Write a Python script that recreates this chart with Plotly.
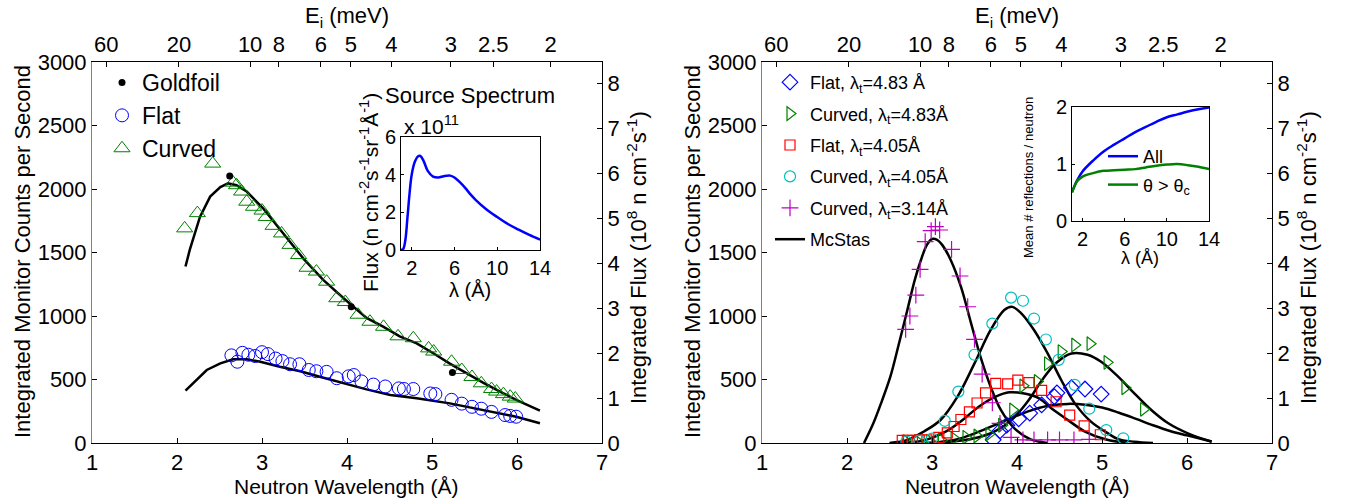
import numpy as np
import plotly.graph_objects as go

W, H = 1348, 502
def px(x): return x / W
def py(y): return 1 - y / H

FONT = "Liberation Sans, Arial, Helvetica, sans-serif"
C_BLUE = '#0000ff'; C_GREEN = '#008000'; C_RED = '#ff0000'; C_CYAN = '#00bfbf'; C_MAG = '#bf00bf'

# ---------------- data: left panel ----------------
goldfoil_lam = [2.62, 4.05, 5.24]
goldfoil_flux = [5.94, 3.03, 1.57]   # 1e8 n cm^-2 s^-1 (right axis)

flat_lam = [2.64, 2.71, 2.77, 2.84, 2.92, 3.00, 3.07, 3.16, 3.24, 3.33, 3.44, 3.55, 3.64, 3.76, 3.88,
            4.02, 4.08, 4.17, 4.31, 4.45, 4.61, 4.67, 4.78, 4.98, 5.04, 5.23, 5.35, 5.47, 5.58, 5.70,
            5.86, 5.92, 5.99]
flat_cnt = [690, 640, 710, 695, 685, 715, 700, 665, 645, 620, 620, 575, 565, 560, 510,
            525, 535, 485, 460, 445, 430, 425, 425, 390, 385, 340, 310, 285, 270, 245,
            220, 213, 207]

curved_lam = [2.09, 2.24, 2.42, 2.66, 2.70, 2.76, 2.82, 2.90, 3.00, 3.05, 3.13, 3.23, 3.33, 3.43, 3.53,
              3.64, 3.76, 3.88, 3.98, 4.13, 4.27, 4.43, 4.60, 4.78, 4.96, 5.02, 5.23, 5.35, 5.47, 5.58,
              5.70, 5.76, 5.84, 5.92, 5.98]
curved_cnt = [1690, 1810, 2200, 2050, 2030, 1980, 1900, 1860, 1830, 1780, 1710, 1650, 1560, 1480, 1380,
              1350, 1270, 1140, 1110, 1010, 955, 915, 840, 825, 745, 720, 640, 575, 520, 470,
              425, 405, 385, 365, 350]

mcc_lam = [2.10, 2.15, 2.27, 2.39, 2.51, 2.60, 2.70, 2.82, 3.01, 3.25, 3.49, 3.72, 3.96, 4.23, 4.43,
           4.62, 4.82, 5.02, 5.21, 5.41, 5.60, 5.80, 5.99, 6.27]
mcc_cnt = [1390, 1520, 1780, 1940, 2015, 2045, 2030, 1980, 1850, 1650, 1450, 1285, 1140, 985, 915,
           840, 785, 705, 625, 548, 475, 405, 340, 255]

mcf_lam = [2.10, 2.23, 2.35, 2.51, 2.66, 2.82, 2.98, 3.21, 3.45, 3.68, 3.92, 4.23, 4.51, 4.82, 5.21,
           5.60, 5.99, 6.27]
mcf_cnt = [412, 496, 575, 627, 659, 659, 640, 601, 565, 522, 478, 422, 378, 352, 312, 260, 207, 155]

# source spectrum inset
src_lam = [1.0, 1.2, 1.4, 1.6, 1.8, 2.0, 2.3, 2.6, 2.8, 3.1, 3.5, 4.0, 4.5, 5.0, 5.6, 6.0, 6.5, 7.0,
           7.5, 8.0, 9.0, 10.0, 11.0, 12.0, 13.0, 14.0]
src_flux = [0.0, 0.05, 0.5, 1.7, 3.0, 4.0, 4.7, 4.98, 5.0, 4.75, 4.2, 3.9, 3.85, 3.92, 3.95, 3.85, 3.6, 3.3,
            2.95, 2.65, 2.15, 1.75, 1.38, 1.08, 0.8, 0.55]

# ---------------- data: right panel ----------------
f483_lam = [3.72, 3.80, 3.88, 4.02, 4.15, 4.29, 4.44, 4.47, 4.64, 4.80, 4.99]
f483_cnt = [25, 95, 140, 190, 235, 300, 365, 395, 435, 425, 385]

c483_lam = [2.70, 2.83, 2.97, 3.11, 3.26, 3.40, 3.53, 3.67, 3.82, 3.95, 4.07, 4.24, 4.36, 4.52, 4.68,
            4.86, 5.06, 5.27, 5.49]
c483_cnt = [10, 12, 15, 22, 35, 45, 55, 70, 140, 260, 450, 485, 625, 720, 772, 782, 635, 435, 265]

f405_lam = [2.65, 2.71, 2.77, 2.85, 2.94, 3.08, 3.18, 3.26, 3.34, 3.44, 3.53, 3.63, 3.75, 3.89, 4.01,
            4.14, 4.29, 4.46, 4.62, 4.79, 4.98]
f405_cnt = [20, 20, 20, 22, 25, 45, 80, 130, 185, 245, 315, 395, 470, 465, 495, 475, 415, 325, 220, 135, 65]

c405_lam = [2.70, 2.85, 3.00, 3.15, 3.31, 3.50, 3.71, 3.93, 4.07, 4.20, 4.34, 4.49, 4.68, 4.85, 5.05, 5.25]
c405_cnt = [12, 18, 35, 175, 405, 695, 940, 1145, 1120, 980, 815, 655, 457, 270, 102, 37]

c314_lam = [2.69, 2.74, 2.81, 2.86, 2.92, 2.99, 3.04, 3.09, 3.23, 3.33, 3.42, 3.50, 3.59, 3.71, 3.80,
            3.93, 4.07, 4.20, 4.36, 4.50, 4.67, 4.85]
c314_cnt = [895, 1000, 1165, 1367, 1585, 1672, 1703, 1677, 1525, 1315, 1073, 816, 543, 317, 155,
            45, 24, 24, 24, 24, 24, 29]

mc314_lam = [2.20, 2.31, 2.41, 2.51, 2.61, 2.71, 2.80, 2.87, 2.94, 3.00, 3.06, 3.12, 3.22, 3.34, 3.46,
             3.57, 3.69, 3.81, 3.97, 4.16, 4.36]
mc314_cnt = [0, 155, 330, 522, 780, 1047, 1290, 1441, 1560, 1606, 1600, 1560, 1441, 1231, 942,
             680, 443, 260, 115, 29, 0]

mc405c_lam = [2.50, 2.71, 2.90, 3.10, 3.30, 3.50, 3.69, 3.85, 3.94, 4.05, 4.20, 4.36, 4.52, 4.68, 4.87,
              5.07, 5.19, 5.38, 5.60]
mc405c_cnt = [0, 24, 89, 181, 365, 627, 890, 1047, 1073, 1021, 890, 706, 496, 312, 168, 76, 30, 10, 0]

mc405f_lam = [2.60, 2.90, 3.16, 3.36, 3.55, 3.75, 3.91, 4.07, 4.26, 4.40, 4.60, 4.80, 5.05, 5.30]
mc405f_cnt = [0, 20, 89, 181, 286, 365, 399, 391, 352, 275, 180, 90, 27, 0]

mc483c_lam = [2.90, 3.30, 3.55, 3.75, 3.95, 4.14, 4.30, 4.46, 4.64, 4.83, 4.99, 5.19, 5.38, 5.58, 5.78,
              6.01, 6.29]
mc483c_cnt = [0, 15, 45, 95, 190, 340, 500, 630, 705, 695, 640, 522, 391, 260, 155, 76, 10]

mc483f_lam = [3.00, 3.30, 3.50, 3.75, 4.00, 4.20, 4.40, 4.60, 4.80, 5.00, 5.20, 5.40, 5.60, 5.80, 6.00, 6.29]
mc483f_cnt = [0, 30, 75, 145, 215, 265, 298, 308, 302, 280, 238, 190, 140, 95, 60, 12]

# reflections inset
refl_lam = [1.0, 1.5, 2.0, 3.0, 4.0, 5.0, 6.0, 7.0, 8.0, 9.0, 10.0, 11.0, 12.0, 13.0, 14.0]
refl_all = [0.51, 0.72, 0.87, 1.06, 1.22, 1.34, 1.45, 1.56, 1.65, 1.74, 1.82, 1.87, 1.92, 1.96, 1.99]
refl_gt = [0.50, 0.70, 0.78, 0.84, 0.88, 0.89, 0.90, 0.91, 0.94, 0.97, 0.99, 1.00, 0.98, 0.95, 0.91]

# axis tick data
E_ticks = [60, 20, 10, 8, 6, 5, 4, 3, 2.5, 2]
E_CONST = 81.81  # E(meV) = 81.81 / lambda^2
lam_of_E = [float(np.sqrt(E_CONST / e)) for e in E_ticks]
E_text = [str(e) for e in E_ticks]

fig = go.Figure()

# ---- left panel traces ----
fig.add_trace(go.Scatter(x=mcc_lam, y=mcc_cnt, mode='lines', line=dict(color='black', width=2.5),
                         xaxis='x', yaxis='y', showlegend=False))
fig.add_trace(go.Scatter(x=mcf_lam, y=mcf_cnt, mode='lines', line=dict(color='black', width=2.5),
                         xaxis='x', yaxis='y', showlegend=False))
fig.add_trace(go.Scatter(x=goldfoil_lam, y=goldfoil_flux, mode='markers', name='Goldfoil',
                         marker=dict(symbol='circle', size=7, color='black'),
                         xaxis='x2', yaxis='y2', legend='legend', legendgroup='g1'))
fig.add_trace(go.Scatter(x=flat_lam, y=flat_cnt, mode='markers', name='Flat',
                         marker=dict(symbol='circle-open', size=13, color=C_BLUE, line=dict(width=1)),
                         xaxis='x', yaxis='y', legend='legend', legendgroup='g2'))
fig.add_trace(go.Scatter(x=curved_lam, y=curved_cnt, mode='markers', name='Curved',
                         marker=dict(symbol='triangle-up-open', size=14, color=C_GREEN, line=dict(width=1)),
                         xaxis='x', yaxis='y', legend='legend', legendgroup='g3'))

# ---- left inset ----
fig.add_trace(go.Scatter(x=src_lam, y=src_flux, mode='lines', line=dict(color=C_BLUE, width=2.5, shape='spline'),
                         xaxis='x5', yaxis='y5', showlegend=False))

# ---- right panel traces ----
for lx, ly in [(mc314_lam, mc314_cnt), (mc405c_lam, mc405c_cnt), (mc405f_lam, mc405f_cnt),
               (mc483c_lam, mc483c_cnt), (mc483f_lam, mc483f_cnt)]:
    fig.add_trace(go.Scatter(x=lx, y=ly, mode='lines', line=dict(color='black', width=2.5, shape='spline'),
                             xaxis='x3', yaxis='y3', showlegend=False))

specs = [
    (f483_lam, f483_cnt, 'Flat, λ<sub>t</sub>=4.83 Å', 'diamond-open', 12, C_BLUE),
    (c483_lam, c483_cnt, 'Curved, λ<sub>t</sub>=4.83Å', 'triangle-right-open', 12, C_GREEN),
    (f405_lam, f405_cnt, 'Flat, λ<sub>t</sub>=4.05Å', 'square-open', 10, C_RED),
    (c405_lam, c405_cnt, 'Curved, λ<sub>t</sub>=4.05Å', 'circle-open', 11, C_CYAN),
    (c314_lam, c314_cnt, 'Curved, λ<sub>t</sub>=3.14Å', 'cross-thin', 12, C_MAG),
]
for i, (lx, ly, nm, sym, sz, col) in enumerate(specs):
    fig.add_trace(go.Scatter(x=lx, y=ly, mode='markers', name=nm,
                             marker=dict(symbol=sym, size=sz, color=col, line=dict(width=1.2, color=col)),
                             xaxis='x3', yaxis='y3', legend='legend2', legendgroup='r%d' % i))
fig.add_trace(go.Scatter(x=[None], y=[None], mode='lines', name='McStas', line=dict(color='black', width=2.5),
                         xaxis='x3', yaxis='y3', legend='legend2', legendgroup='r9'))
# placeholder trace to activate the top/right axes of the right panel
fig.add_trace(go.Scatter(x=[None], y=[None], mode='markers', xaxis='x4', yaxis='y4', showlegend=False))

# ---- right inset ----
fig.add_trace(go.Scatter(x=refl_lam, y=refl_all, mode='lines', name='All', line=dict(color=C_BLUE, width=2.5, shape='spline'),
                         xaxis='x6', yaxis='y6', legend='legend3', legendgroup='i1'))
fig.add_trace(go.Scatter(x=refl_lam, y=refl_gt, mode='lines', name='θ > θ<sub>c</sub>', line=dict(color=C_GREEN, width=2.5, shape='spline'),
                         xaxis='x6', yaxis='y6', legend='legend3', legendgroup='i2'))

# ---- axes ----
TF = dict(family=FONT, size=22, color='black')
def ax(**kw):
    base = dict(showgrid=False, zeroline=False, showline=True, linecolor='black', linewidth=1,
                ticks='inside', ticklen=5, tickcolor='black', tickfont=TF, mirror=False, automargin=False)
    base.update(kw)
    return base

LX = [px(92), px(602)]
RX = [px(762), px(1272)]
MY = [py(443), py(62)]
INS_TF = dict(family=FONT, size=20, color='black')

layout = dict(
    template='none',
    width=W, height=H, autosize=False,
    margin=dict(l=0, r=0, t=0, b=0, pad=0, autoexpand=False),
    paper_bgcolor='white', plot_bgcolor='white',
    font=dict(family=FONT, color='black'),
    xaxis=ax(domain=LX, range=[1, 7], anchor='y', tickvals=[1, 2, 3, 4, 5, 6, 7]),
    xaxis2=ax(overlaying='x', side='top', anchor='y', range=[1, 7], tickvals=lam_of_E, ticktext=E_text),
    yaxis=ax(domain=MY, range=[0, 3000], anchor='x', tickvals=[0, 500, 1000, 1500, 2000, 2500, 3000], linecolor='#808080'),
    yaxis2=ax(overlaying='y', side='right', anchor='x', range=[0, 8.48], tickvals=list(range(9))),
    xaxis3=ax(domain=RX, range=[1, 7], anchor='y3', tickvals=[1, 2, 3, 4, 5, 6, 7]),
    xaxis4=ax(overlaying='x3', side='top', anchor='y3', range=[1, 7], tickvals=lam_of_E, ticktext=E_text),
    yaxis3=ax(domain=MY, range=[0, 3000], anchor='x3', tickvals=[0, 500, 1000, 1500, 2000, 2500, 3000], linecolor='#808080'),
    yaxis4=ax(overlaying='y3', side='right', anchor='x3', range=[0, 8.48], tickvals=list(range(9))),
    xaxis5=ax(domain=[px(401), px(540)], range=[1, 14], anchor='y5', tickvals=[2, 6, 10, 14], mirror=True,
              ticklen=3, tickfont=INS_TF),
    yaxis5=ax(domain=[py(250), py(137)], range=[0, 6], anchor='x5', tickvals=[0, 2, 4, 6], mirror=True,
              ticklen=3, tickfont=INS_TF),
    xaxis6=ax(domain=[px(1072), px(1209)], range=[1, 14], anchor='y6', tickvals=[2, 6, 10, 14], mirror=True,
              ticklen=3, tickfont=INS_TF),
    yaxis6=ax(domain=[py(221), py(107)], range=[0, 2], anchor='x6', tickvals=[0, 1, 2], mirror=True,
              ticklen=3, tickfont=INS_TF),
    legend=dict(x=px(102), y=py(61), xanchor='left', yanchor='top', bgcolor='rgba(0,0,0,0)', borderwidth=0,
                font=dict(family=FONT, size=23), itemwidth=30, traceorder='grouped', tracegroupgap=0),
    legend2=dict(x=px(770), y=py(64), xanchor='left', yanchor='top', bgcolor='rgba(0,0,0,0)', borderwidth=0,
                 font=dict(family=FONT, size=18), itemwidth=30, traceorder='grouped', tracegroupgap=5),
    legend3=dict(x=px(1103), y=py(138), xanchor='left', yanchor='top', bgcolor='rgba(0,0,0,0)', borderwidth=0,
                 font=dict(family=FONT, size=18), itemwidth=30, traceorder='grouped', tracegroupgap=2),
)
fig.update_layout(**layout)

def ann(x, y, text, size=22, angle=0, xanchor='center'):
    fig.add_annotation(x=px(x), y=py(y), xref='paper', yref='paper', text=text, showarrow=False,
                       textangle=angle, xanchor=xanchor, yanchor='middle',
                       font=dict(family=FONT, size=size, color='black'))

for off in (0, 670):
    ann(22 + off, 252, 'Integrated Monitor Counts per Second', 22, -90)
    ann(637 + off, 258, 'Integrated Flux (10<sup>8</sup> n cm<sup>-2</sup>s<sup>-1</sup>)', 22, -90)
    ann(347 + off, 17, 'E<sub>i</sub> (meV)', 22)
    ann(347 + off, 486, 'Neutron Wavelength (Å)', 21)

ann(470, 95, 'Source Spectrum', 22)
ann(402, 125, 'x 10<sup>11</sup>', 21, xanchor='left')
ann(369, 193, 'Flux (n cm<sup>-2</sup>s<sup>-1</sup>sr<sup>-1</sup>Å<sup>-1</sup>)', 21, -90)
ann(470, 290, 'λ (Å)', 20)
ann(1028, 178, 'Mean # reflections / neutron', 13, -90)
ann(1140, 258, 'λ (Å)', 18)

fig.write_html("out.html", config={'displayModeBar': False},
               post_script="document.body.style.margin='0';document.body.style.overflow='hidden';")
